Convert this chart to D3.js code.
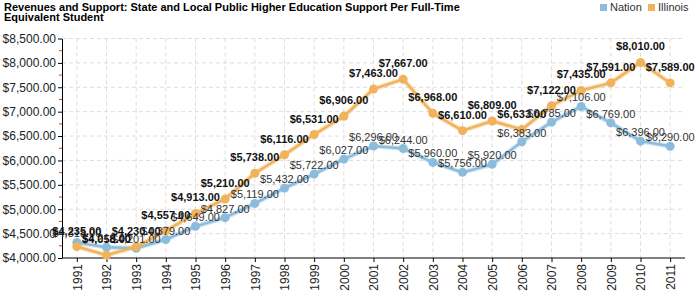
<!DOCTYPE html>
<html>
<head>
<meta charset="utf-8">
<script src="https://cdn.jsdelivr.net/npm/d3@7"></script>
<style>
  body { margin: 0; background: #fff; }
  svg { font-family: "Liberation Sans", Arial, sans-serif; }
</style>
</head>
<body>
<svg width="700" height="300"></svg>
<script>
// chart data
const years = [1991, 1992, 1993, 1994, 1995, 1996, 1997, 1998, 1999, 2000, 2001,
  2002, 2003, 2004, 2005, 2006, 2007, 2008, 2009, 2010, 2011];
const nation = [4318, 4218, 4201, 4379, 4649, 4827, 5119, 5432, 5722, 6027, 6296,
  6244, 5960, 5756, 5920, 6383, 6785, 7106, 6769, 6396, 6290];
const illinois = [4235, 4058, 4230, 4557, 4913, 5210, 5738, 6116, 6531, 6906, 7463,
  7667, 6968, 6610, 6809, 6633, 7122, 7435, 7591, 8010, 7589];
const yTicks = [4000, 4500, 5000, 5500, 6000, 6500, 7000, 7500, 8000, 8500];
const seriesNames = ['Nation', 'Illinois'];
const colors = ['#8cbcdc', '#f0b25a'];

const svg = d3.select('svg');
const plotLeft = 62, plotRight = 685, plotTop = 38.5, plotBottom = 258;

const x = d3.scalePoint().domain(years).range([plotLeft, plotRight]).padding(0.5);
const y = d3.scaleLinear().domain([4000, 8500]).range([plotBottom, plotTop]);
const money = d3.format('$,.2f');

// title
svg.append('text').attr('x', 4).attr('y', 11)
  .attr('font-size', 11).attr('font-weight', 'bold')
  .text('Revenues and Support: State and Local Public Higher Education Support Per Full-Time');
svg.append('text').attr('x', 4).attr('y', 21)
  .attr('font-size', 11).attr('font-weight', 'bold')
  .text('Equivalent Student');

// legend
const legend = svg.append('g');
[[600, 0], [648, 1]].forEach(function([lx, i]) {
  legend.append('rect').attr('x', lx).attr('y', 4).attr('width', 7).attr('height', 7)
    .attr('fill', colors[i]);
  legend.append('text').attr('x', lx + 10).attr('y', 11).attr('font-size', 11)
    .attr('fill', '#333').text(seriesNames[i]);
});

// grid lines
const grid = svg.append('g').attr('stroke', '#ddd').attr('stroke-dasharray', '4,3');
yTicks.slice(1).forEach(function(t) {
  grid.append('line').attr('x1', plotLeft).attr('x2', plotRight).attr('y1', y(t)).attr('y2', y(t));
});
years.forEach(function(yr) {
  grid.append('line').attr('x1', x(yr)).attr('x2', x(yr)).attr('y1', plotTop).attr('y2', plotBottom);
});

// minor red ticks between the major ones
yTicks.slice(0, -1).forEach(function(t) {
  svg.append('line').attr('x1', plotLeft - 3).attr('x2', plotLeft).attr('y1', y(t + 250)).attr('y2', y(t + 250))
    .attr('stroke', '#e33').attr('stroke-width', 1);
});

// axes
const yAxis = svg.append('g').attr('transform', `translate(${plotLeft},0)`)
  .call(d3.axisLeft(y).tickValues(yTicks).tickFormat(money).tickSize(4).tickSizeOuter(0));
yAxis.selectAll('text').attr('font-size', 12).attr('fill', '#222').attr('dx', '1');
yAxis.select('.domain').attr('stroke', '#000');

const xAxis = svg.append('g').attr('transform', `translate(0,${plotBottom})`)
  .call(d3.axisBottom(x).tickSize(4).tickSizeOuter(0));
xAxis.select('.domain').attr('d', `M${plotLeft},0H${plotRight}`).attr('stroke', '#000');
xAxis.selectAll('text').attr('font-size', 12).attr('fill', '#222')
  .attr('transform', 'rotate(-90)').attr('text-anchor', 'end')
  .attr('x', -6).attr('y', 0).attr('dy', '0.35em');

// lines + points + labels
const allSeries = [nation, illinois];
allSeries.forEach(function(vals, i) {
  const line = d3.line().x((d, j) => x(years[j])).y(d => y(d));
  svg.append('path').datum(vals).attr('d', line).attr('fill', 'none')
    .attr('stroke', colors[i]).attr('stroke-width', 5).attr('stroke-opacity', 0.35);
  svg.append('path').datum(vals).attr('d', line).attr('fill', 'none')
    .attr('stroke', colors[i]).attr('stroke-width', 2.5);
  svg.append('g').selectAll('circle').data(vals).join('circle')
    .attr('cx', (d, j) => x(years[j])).attr('cy', d => y(d)).attr('r', 4.5)
    .attr('fill', colors[i]);
});

allSeries.forEach(function(vals, i) {
  svg.append('g').selectAll('text').data(vals).join('text')
    .attr('x', (d, j) => x(years[j])).attr('y', d => y(d) - (i === 1 ? 12 : 5))
    .attr('text-anchor', 'middle').attr('font-size', 11)
    .attr('font-weight', i === 1 ? 'bold' : 'normal')
    .attr('fill', i === 1 ? '#111' : '#333')
    .text(d => money(d));
});
</script>
</body>
</html>
